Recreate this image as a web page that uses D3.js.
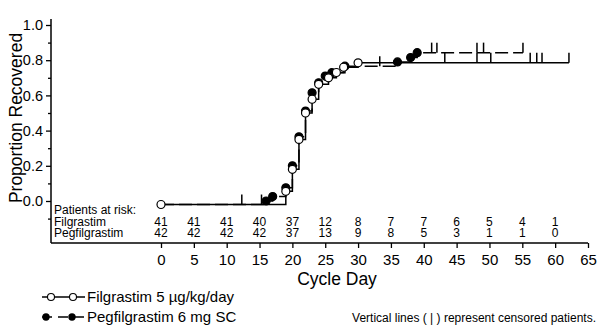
<!DOCTYPE html>
<html>
<head>
<meta charset="utf-8">
<script src="https://cdn.jsdelivr.net/npm/d3@7"></script>
<style>
  body { margin: 0; background: #fff; }
  svg { display: block; font-family: "Liberation Sans", Arial, sans-serif; }
  .axis path { display: none; }
  .axis line { stroke: #000; stroke-width: 1.3; }
  .axis text { fill: #000; }
</style>
</head>
<body>
<div class="chart"></div>
<script>
'use strict'

let width = 600;
let height = 325;

/* Kaplan-Meier steps: day, proportion */
const filDays  = [0, 19, 20, 21, 22, 23, 24, 25.5, 26.7, 27.8, 30];
const filProp  = [-0.02, 0.055, 0.18, 0.35, 0.50, 0.578, 0.663, 0.70, 0.73, 0.76, 0.785];
const filEnd = 62.1;
const filCensor = [12.3, 15.3, 43.2, 48.1, 50.2, 56.2, 57.2, 58.0, 62.1];

const pegDays  = [0, 16, 17, 19, 20, 21, 22, 23, 24, 25, 26, 28, 36, 38, 39];
const pegProp  = [-0.02, 0.0, 0.025, 0.075, 0.20, 0.365, 0.511, 0.615, 0.672, 0.71, 0.729, 0.766, 0.79, 0.815, 0.843];
const pegEnd = 55.1;
const pegCensor = [33.3, 41.2, 42.0, 48.1, 49.1, 55.1];

/* patients at risk table */
const riskDays = [0, 5, 10, 15, 20, 25, 30, 35, 40, 45, 50, 55, 60];
const riskFil  = [41, 41, 41, 40, 37, 12, 8, 7, 7, 6, 5, 4, 1];
const riskPeg  = [42, 42, 42, 42, 37, 13, 9, 8, 5, 3, 1, 1, 0];

const xTicks = d3.range(0, 66, 5);
const yTicks = [0, 0.2, 0.4, 0.6, 0.8, 1.0];
const yMinor = [-0.1, 0.1, 0.3, 0.5, 0.7, 0.9];

const xScale = d3.scaleLinear().domain([0, 65]).range([161, 588]);
const yScale = d3.scaleLinear().domain([0, 1]).range([201, 25]);
const axisY = 243;
const axisX = 51;

const svg = d3.select('.chart')
              .append('svg')
              .attr('width', width)
              .attr('height', height);

/* AXES */
svg.append('line')
   .attr('x1', axisX).attr('x2', axisX)
   .attr('y1', 19).attr('y2', axisY)
   .attr('stroke', '#000').attr('stroke-width', 1.5);
svg.append('line')
   .attr('x1', axisX).attr('x2', 588)
   .attr('y1', axisY).attr('y2', axisY)
   .attr('stroke', '#000').attr('stroke-width', 1.5);

svg.append('g')
   .attr('class', 'axis')
   .attr('transform', 'translate(' + axisX + ',0)')
   .call(d3.axisLeft(yScale).tickValues(yTicks).tickSize(5).tickPadding(3).tickFormat(d3.format('.1f')))
   .selectAll('text').style('font-size', '14.5px');

svg.append('g')
   .attr('class', 'axis')
   .attr('transform', 'translate(' + axisX + ',0)')
   .call(d3.axisLeft(yScale).tickValues(yMinor).tickSize(3).tickFormat(''));

svg.append('g')
   .attr('class', 'axis')
   .attr('transform', 'translate(0,' + axisY + ')')
   .call(d3.axisBottom(xScale).tickValues(xTicks).tickSize(5).tickPadding(6))
   .selectAll('text').style('font-size', '15px');

svg.append('text')
   .attr('transform', 'rotate(-90)')
   .attr('x', -118)
   .attr('y', 22)
   .attr('text-anchor', 'middle')
   .style('font-size', '17.5px')
   .text('Proportion Recovered');

svg.append('text')
   .attr('x', 337)
   .attr('y', 285)
   .attr('text-anchor', 'middle')
   .style('font-size', '17.5px')
   .text('Cycle Day');

/* RISK TABLE */
const risk = svg.append('g').style('font-size', '12px');
risk.append('text').attr('x', 54).attr('y', 214).text('Patients at risk:');
risk.append('text').attr('x', 54).attr('y', 225.5).text('Filgrastim');
risk.append('text').attr('x', 54).attr('y', 236.5).text('Pegfilgrastim');
risk.selectAll('.rf')
    .data(riskFil)
    .enter().append('text')
    .attr('x', (d, i) => xScale(riskDays[i]))
    .attr('y', 225.5)
    .attr('text-anchor', 'middle')
    .text(d => d);
risk.selectAll('.rp')
    .data(riskPeg)
    .enter().append('text')
    .attr('x', (d, i) => xScale(riskDays[i]))
    .attr('y', 236.5)
    .attr('text-anchor', 'middle')
    .text(d => d);

/* CURVES */
function drawCurve (days, prop, end, censor, dashed, filled, skipFirst) {
    const pts = days.map((d, i) => [d, prop[i]]);
    pts.push([end, prop[prop.length - 1]]);
    const line = d3.line()
                   .x(d => xScale(d[0]))
                   .y(d => yScale(d[1]))
                   .curve(d3.curveStepAfter);
    svg.append('path')
       .attr('d', line(pts))
       .attr('fill', 'none')
       .attr('stroke', '#000')
       .attr('stroke-width', 1.5)
       .attr('stroke-dasharray', dashed ? '13,5' : null);

    /* censor marks sit on the level in force at that day */
    const level = t => {
        let v = prop[0];
        days.forEach((d, i) => { if (d <= t) v = prop[i]; });
        return v;
    };
    svg.selectAll(null)
       .data(censor)
       .enter().append('line')
       .attr('x1', d => xScale(d)).attr('x2', d => xScale(d))
       .attr('y1', d => yScale(level(d)))
       .attr('y2', d => yScale(level(d)) - 10)
       .attr('stroke', '#000')
       .attr('stroke-width', 1.5);

    svg.selectAll(null)
       .data(skipFirst ? pts.slice(1, -1) : pts.slice(0, -1))
       .enter().append('circle')
       .attr('cx', d => xScale(d[0]))
       .attr('cy', d => yScale(d[1]))
       .attr('r', 4)
       .attr('fill', filled ? '#000' : '#fff')
       .attr('stroke', '#000')
       .attr('stroke-width', 1.2);
}

drawCurve(pegDays, pegProp, pegEnd, pegCensor, true, true, true);
drawCurve(filDays, filProp, filEnd, filCensor, false, false, false);

/* LEGEND */
const lg = svg.append('g');
lg.append('line')
  .attr('x1', 42).attr('x2', 85).attr('y1', 297).attr('y2', 297)
  .attr('stroke', '#000').attr('stroke-width', 1.3);
lg.selectAll(null).data([51, 73]).enter().append('circle')
  .attr('cx', d => d).attr('cy', 297).attr('r', 3.5)
  .attr('fill', '#fff').attr('stroke', '#000').attr('stroke-width', 1.1);
lg.append('text').attr('x', 87).attr('y', 302).style('font-size', '15px')
  .text('Filgrastim 5 \u00b5g/kg/day');

lg.append('line')
  .attr('x1', 42).attr('x2', 85).attr('y1', 317).attr('y2', 317)
  .attr('stroke', '#000').attr('stroke-width', 1.3)
  .attr('stroke-dasharray', '10,6');
lg.selectAll(null).data([46, 72]).enter().append('circle')
  .attr('cx', d => d).attr('cy', 317).attr('r', 3.7)
  .attr('fill', '#000');
lg.append('text').attr('x', 87).attr('y', 322).style('font-size', '15px')
  .text('Pegfilgrastim 6 mg SC');

svg.append('text')
   .attr('x', 596)
   .attr('y', 322)
   .attr('text-anchor', 'end')
   .style('font-size', '12px')
   .text('Vertical lines ( | ) represent censored patients.');
</script>
</body>
</html>
